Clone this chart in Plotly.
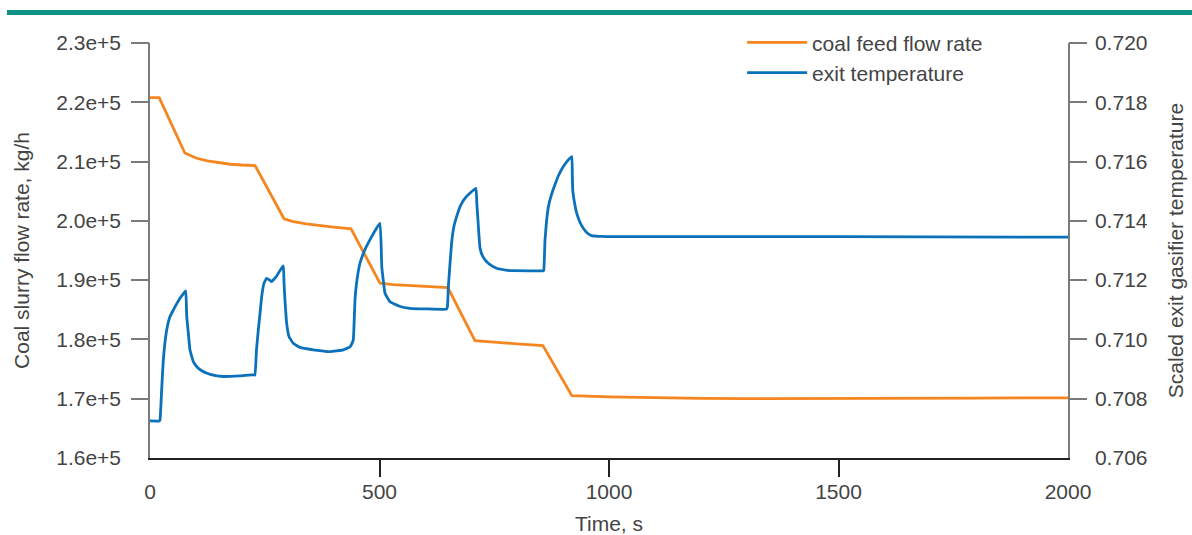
import plotly.graph_objects as go

# ---- data ----
coal_t = [0, 20, 76, 100, 125, 150, 175, 200, 229, 292, 310, 340, 370, 400, 438,
          501, 530, 570, 610, 649, 708, 750, 800, 856, 919, 1000, 1100, 1200,
          1300, 1400, 1500, 1600, 1700, 1800, 1900, 2000]
coal_flow = [220800, 220800, 211450, 210600, 210100, 209800, 209550, 209420, 209320,
             200350, 199900, 199500, 199200, 198950, 198650,
             189500, 189250, 189050, 188900, 188750, 179800, 179500, 179250, 178950,
             170500, 170300, 170150, 170050, 170000, 170000, 170000, 170020, 170060,
             170100, 170130, 170130]

temp_t = [0, 20, 21.8, 25.4, 29, 36.4, 43.6, 50.8, 58, 65.4, 72, 77.8,
          80, 83.5, 87, 94.4, 102, 112, 124, 140, 160, 196, 227,
          228.8, 232, 236, 239.7, 243.3, 248.4, 254, 260, 265, 276, 283, 290.5,
          292, 294, 297.7, 303, 312, 327, 356, 392, 421, 436, 441,
          443, 444.4, 446.6, 450, 457.5, 468, 483, 501,
          505, 512, 523, 545, 566, 600, 646,
          648, 650, 657, 662, 668, 676, 686, 698, 710,
          712, 714, 719, 725, 733.5, 745, 755, 775, 791.5, 857,
          858, 860.6, 864, 868, 875, 882, 890, 900.5, 910, 919,
          920, 921, 925, 929.6, 936, 944, 952, 962, 975, 995, 1500, 2000]
exit_temp = [0.70725, 0.70725, 0.70729, 0.70830, 0.70931, 0.71032, 0.71077, 0.71099, 0.71120, 0.71139, 0.71153, 0.71164,
             0.71077, 0.71022, 0.70965, 0.70925, 0.70908, 0.70895, 0.70886, 0.70879, 0.70875, 0.70877, 0.70881,
             0.70880, 0.70965, 0.71032, 0.71088, 0.71144, 0.71190, 0.71206, 0.71201, 0.71195, 0.71214, 0.71232, 0.71248,
             0.71190, 0.71133, 0.71055, 0.71009, 0.70987, 0.70973, 0.70965, 0.70959, 0.70965, 0.70975, 0.70990,
             0.71000, 0.71043, 0.71133, 0.71190, 0.71257, 0.71302, 0.71347, 0.71392,
             0.71245, 0.71156, 0.71127, 0.71111, 0.71105, 0.71103, 0.71102,
             0.71110, 0.71178, 0.71324, 0.71380, 0.71414, 0.71450, 0.71476, 0.71495, 0.71510,
             0.71460, 0.71414, 0.71308, 0.71280, 0.71262, 0.71248, 0.71240, 0.71234, 0.71232, 0.71232,
             0.71234, 0.71336, 0.71400, 0.71448, 0.71490, 0.71521, 0.71553, 0.71583, 0.71603, 0.71617,
             0.71560, 0.71504, 0.71460, 0.71426, 0.71398, 0.71375, 0.71360, 0.71350, 0.71348, 0.71347, 0.71347, 0.71345]

x_ticks = [0, 500, 1000, 1500, 2000]
x_ticktext = ["0", "500", "1000", "1500", "2000"]
x_marked = [500, 1000, 1500]
yl_ticks = [160000, 170000, 180000, 190000, 200000, 210000, 220000, 230000]
yl_ticktext = ["1.6e+5", "1.7e+5", "1.8e+5", "1.9e+5", "2.0e+5", "2.1e+5", "2.2e+5", "2.3e+5"]
yr_ticks = [0.706, 0.708, 0.710, 0.712, 0.714, 0.716, 0.718, 0.720]
yr_ticktext = ["0.706", "0.708", "0.710", "0.712", "0.714", "0.716", "0.718", "0.720"]

ORANGE = "#F5861F"
BLUE = "#0A71BA"
TEAL = "#0F9185"
TXT = "#444444"
FONT = "Liberation Sans"
FS = 21

fig = go.Figure()
fig.add_trace(go.Scatter(x=coal_t, y=coal_flow, mode="lines", name="coal feed flow rate",
                         line=dict(color=ORANGE, width=2.8), xaxis="x", yaxis="y"))
fig.add_trace(go.Scatter(x=temp_t, y=exit_temp, mode="lines", name="exit temperature",
                         line=dict(color=BLUE, width=2.8, shape="spline", smoothing=0.3),
                         xaxis="x", yaxis="y2"))
# invisible carriers so the tick-only overlay axes get drawn
fig.add_trace(go.Scatter(x=coal_t, y=coal_flow, mode="lines", opacity=0, showlegend=False,
                         hoverinfo="skip", line=dict(width=0.1), xaxis="x3", yaxis="y3"))
fig.add_trace(go.Scatter(x=temp_t, y=exit_temp, mode="lines", opacity=0, showlegend=False,
                         hoverinfo="skip", line=dict(width=0.1), xaxis="x3", yaxis="y4"))

common = dict(showgrid=False, zeroline=False, ticks="outside", automargin=False,
              tickfont=dict(family=FONT, size=FS, color=TXT))
tickonly = dict(ticks="outside", ticklen=18, tickwidth=1.5, showticklabels=False, showline=False,
                showgrid=False, zeroline=False, automargin=False, tickmode="array")
fig.update_layout(
    width=1192, height=535,
    margin=dict(l=150, r=124, t=43, b=77, autoexpand=False),
    paper_bgcolor="white", plot_bgcolor="white",
    font=dict(family=FONT, size=FS, color=TXT),
    xaxis=dict(range=[0, 2000], tickmode="array", tickvals=x_ticks, ticktext=x_ticktext,
               showline=True, linecolor="#222222", linewidth=1.5, tickcolor="rgba(0,0,0,0)", ticklen=14,
               title=dict(text="Time, s", font=dict(family=FONT, size=FS, color=TXT), standoff=14),
               **common),
    yaxis=dict(range=[160000, 230000], tickmode="array", tickvals=yl_ticks, ticktext=yl_ticktext,
               showline=True, linecolor="#7a7a7a", linewidth=1.5, tickcolor="rgba(0,0,0,0)", ticklen=23,
               title=dict(text="Coal slurry flow rate, kg/h", font=dict(family=FONT, size=FS, color=TXT), standoff=21),
               **common),
    yaxis2=dict(range=[0.706, 0.720], tickmode="array", tickvals=yr_ticks, ticktext=yr_ticktext,
                overlaying="y", side="right", anchor="x",
                showline=True, linecolor="#7a7a7a", linewidth=1.5, tickcolor="rgba(0,0,0,0)", ticklen=21,
                title=dict(text="Scaled exit gasifier temperature", font=dict(family=FONT, size=FS, color=TXT), standoff=21),
                **common),
    xaxis3=dict(range=[0, 2000], overlaying="x", anchor="y3", side="bottom",
                tickvals=x_marked, tickcolor="#222222", **tickonly),
    yaxis3=dict(range=[160000, 230000], overlaying="y", anchor="x3", side="left",
                tickvals=yl_ticks[1:], tickcolor="#7a7a7a", **tickonly),
    yaxis4=dict(range=[0.706, 0.720], overlaying="y", anchor="x3", side="right",
                tickvals=yr_ticks[1:], tickcolor="#7a7a7a", **tickonly),
    legend=dict(x=0.645, y=1.05, xanchor="left", yanchor="top", bgcolor="rgba(0,0,0,0)",
                font=dict(family=FONT, size=FS, color=TXT), itemwidth=60, tracegroupgap=0),
    shapes=[dict(type="rect", xref="paper", yref="paper", x0=-0.1558, x1=1.14, y0=1.0675, y1=1.0795,
                 fillcolor=TEAL, line=dict(width=0), layer="above")],
)

fig.write_html("out.html")
